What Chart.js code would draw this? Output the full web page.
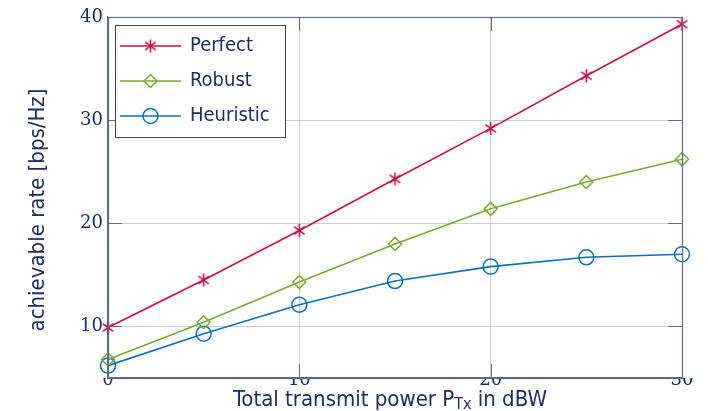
<!DOCTYPE html>
<html>
<head>
<meta charset="utf-8">
<script src="https://cdn.jsdelivr.net/npm/chart.js@4.4.1/dist/chart.umd.min.js"></script>
<style>
html,body{margin:0;padding:0;background:#fff;}
#wrap{width:708px;height:411px;position:relative;}
</style>
</head>
<body>
<div id="wrap"><canvas id="c" width="708" height="411"></canvas></div>
<script>
// ---- data ----
const xValues = [0, 5, 10, 15, 20, 25, 30];
const perfect = [9.9, 14.5, 19.3, 24.3, 29.2, 34.3, 39.3];
const robust = [6.8, 10.4, 14.3, 18.0, 21.4, 24.0, 26.2];
const heuristic = [6.2, 9.3, 12.1, 14.4, 15.8, 16.7, 17.0];
const seriesNames = ['Perfect', 'Robust', 'Heuristic'];
const xTicks = [0, 10, 20, 30];
const yTicks = [10, 20, 30, 40];
const xTitle = ['Total transmit power P', 'Tx', ' in dBW'];
const yTitle = 'achievable rate [bps/Hz]';

const navy = '#1e2d62';
const colors = ['#c8104a', '#77ac30', '#0a72bd'];

function pts(arr){ return xValues.map((x,i)=>({x:x, y:arr[i]})); }

// asterisk marker (vertical + X), drawn into a small canvas
function makeAsterisk(color){
  const c = document.createElement('canvas');
  c.width = 15; c.height = 15;
  const g = c.getContext('2d');
  g.strokeStyle = color; g.lineWidth = 1.6;
  const m = 7.5, r = 6.5, d = r*0.8;
  g.beginPath();
  g.moveTo(m, m-r); g.lineTo(m, m+r);
  g.moveTo(m-d, m-d*0.75); g.lineTo(m+d, m+d*0.75);
  g.moveTo(m-d, m+d*0.75); g.lineTo(m+d, m-d*0.75);
  g.stroke();
  return c;
}

const decor = {
  id: 'decor',
  afterDraw(chart){
    const ctx = chart.ctx, a = chart.chartArea;
    const xs = chart.scales.x, ys = chart.scales.y;
    ctx.save();
    // inward tick marks
    ctx.strokeStyle = '#6b6b6b'; ctx.lineWidth = 1;
    const tl = 14;
    xTicks.forEach(v=>{
      const px = Math.round(xs.getPixelForValue(v))+0.5;
      ctx.beginPath(); ctx.moveTo(px, a.bottom); ctx.lineTo(px, a.bottom-tl);
      ctx.moveTo(px, a.top); ctx.lineTo(px, a.top+tl); ctx.stroke();
    });
    yTicks.forEach(v=>{
      const py = Math.round(ys.getPixelForValue(v))+0.5;
      ctx.beginPath(); ctx.moveTo(a.left, py); ctx.lineTo(a.left+tl, py);
      ctx.moveTo(a.right, py); ctx.lineTo(a.right-tl, py); ctx.stroke();
    });
    // box
    ctx.strokeStyle = '#5d6a8c'; ctx.lineWidth = 1.2;
    ctx.strokeRect(Math.round(a.left)+0.5, Math.round(a.top)+0.5, Math.round(a.right-a.left), Math.round(a.bottom-a.top));
    // legend
    const lx = 115, ly = 25, lw = 170, lh = 112;
    ctx.fillStyle = '#fff'; ctx.fillRect(lx, ly, lw, lh);
    ctx.strokeStyle = '#444'; ctx.lineWidth = 1;
    ctx.strokeRect(lx+0.5, ly+0.5, lw, lh);
    const rows = [46, 81, 116];
    chart.data.datasets.forEach((ds,i)=>{
      const y = rows[i];
      ctx.strokeStyle = ds.borderColor; ctx.lineWidth = 1.6;
      ctx.beginPath(); ctx.moveTo(120, y); ctx.lineTo(181, y); ctx.stroke();
      ctx.fillStyle = 'rgba(0,0,0,0)';
      ctx.strokeStyle = ds.pointBorderColor; ctx.lineWidth = 1.5;
      Chart.helpers.drawPoint(ctx, {pointStyle: ds.pointStyle, radius: ds.pointRadius, borderWidth: 1.5, rotation: 0}, 150.5, y);
      ctx.fillStyle = navy;
      ctx.font = "20px 'DejaVu Sans Condensed', 'DejaVu Sans'";
      ctx.textBaseline = 'alphabetic'; ctx.textAlign = 'left';
      ctx.fillText(ds.label, 190, y+5);
    });
    // x title with subscript
    ctx.fillStyle = navy; ctx.textBaseline = 'alphabetic'; ctx.textAlign = 'left';
    const f1 = "22px 'DejaVu Sans Condensed', 'DejaVu Sans'", f2 = "16px 'DejaVu Sans Condensed', 'DejaVu Sans'";
    ctx.font = f1; const w1 = ctx.measureText(xTitle[0]).width, w3 = ctx.measureText(xTitle[2]).width;
    ctx.font = f2; const w2 = ctx.measureText(xTitle[1]).width;
    let sx = 390 - (w1+w2+w3)/2;
    const by = 406;
    ctx.font = f1; ctx.fillText(xTitle[0], sx, by); sx += w1;
    ctx.font = f2; ctx.fillText(xTitle[1], sx, by+3); sx += w2;
    ctx.font = f1; ctx.fillText(xTitle[2], sx, by);
    // y title
    ctx.translate(44, 210); ctx.rotate(-Math.PI/2);
    ctx.textAlign = 'center'; ctx.font = "22px 'DejaVu Sans Condensed', 'DejaVu Sans'";
    ctx.fillText(yTitle, 0, 0);
    ctx.restore();
  }
};

const series = [perfect, robust, heuristic];
const styles = [makeAsterisk(colors[0]), 'rectRot', 'circle'];
const radii = [7, 6.5, 7.5];

new Chart(document.getElementById('c'), {
  type: 'line',
  data: {
    datasets: series.map((s,i)=>({
      label: seriesNames[i],
      data: pts(s),
      borderColor: colors[i],
      backgroundColor: 'rgba(0,0,0,0)',
      pointBackgroundColor: 'rgba(0,0,0,0)',
      pointBorderColor: colors[i],
      borderWidth: 1.6,
      pointBorderWidth: 1.5,
      pointStyle: styles[i],
      pointRadius: radii[i],
      tension: 0,
      clip: false
    }))
  },
  options: {
    responsive: false,
    animation: false,
    layout: { padding: { top: 17, right: 26, left: 0, bottom: 0 } },
    plugins: { legend: { display: false }, tooltip: { enabled: false } },
    scales: {
      x: {
        type: 'linear', min: 0, max: 30,
        afterBuildTicks: s => { s.ticks = xTicks.map(v=>({value:v})); },
        afterFit: s => { s.height = 33; },
        grid: { color: '#cfcfcf', drawTicks: false, lineWidth: 1 },
        border: { display: true, color: '#5d6a8c', width: 1.2 },
        ticks: { color: navy, padding: -8, maxRotation: 0, font: { family: "'DejaVu Serif'", size: 18 } }
      },
      y: {
        min: 5, max: 40,
        afterBuildTicks: s => { s.ticks = yTicks.map(v=>({value:v})); },
        afterFit: s => { s.width = 108; },
        grid: { color: '#cfcfcf', drawTicks: false, lineWidth: 1 },
        border: { display: true, color: '#5d6a8c', width: 1.2 },
        ticks: { color: navy, padding: 5, font: { family: "'DejaVu Serif'", size: 18 } }
      }
    }
  },
  plugins: [decor]
});
</script>
</body>
</html>
